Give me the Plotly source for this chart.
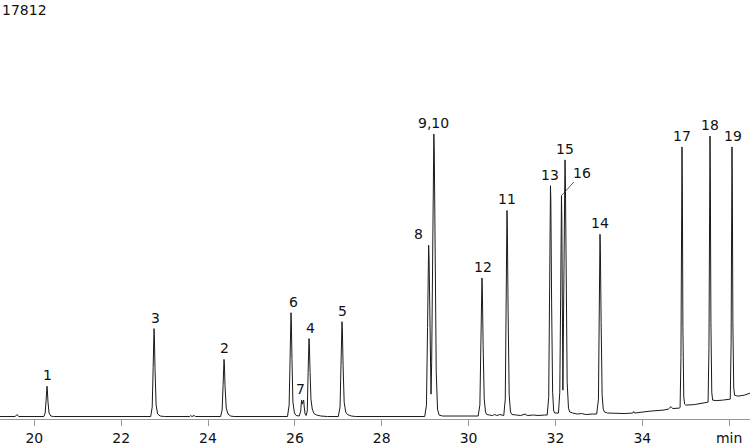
import plotly.graph_objects as go

# Chromatogram trace (time in min, detector signal in arbitrary units)
trace_time = [
    19.21, 19.56, 19.60, 19.64,
    20.22, 20.25, 20.272, 20.285, 20.292, 20.300, 20.315, 20.34, 20.38, 20.44,
    22.68, 22.715, 22.737, 22.75, 22.756, 22.764, 22.78, 22.805, 22.84, 22.90, 23.0,
    23.58, 23.60, 23.63, 23.68, 23.71,
    24.29, 24.325, 24.348, 24.362, 24.368, 24.376, 24.392, 24.42, 24.46, 24.52, 24.60,
    25.83, 25.868, 25.89, 25.904, 25.911, 25.918, 25.933, 25.955, 25.99, 26.03,
    26.10, 26.135, 26.150, 26.157, 26.168, 26.180, 26.195, 26.203, 26.213, 26.235, 26.26,
    26.285, 26.305, 26.318, 26.325, 26.333, 26.35, 26.37, 26.40, 26.44, 26.50, 26.60, 26.75,
    27.00, 27.04, 27.062, 27.077, 27.085, 27.093, 27.11, 27.135, 27.17, 27.21, 27.30, 27.40,
    28.99, 29.03, 29.055, 29.072, 29.08, 29.09, 29.11, 29.13, 29.135, 29.15, 29.172, 29.19,
    29.20, 29.21, 29.23, 29.255, 29.285, 29.32, 29.40,
    30.22, 30.26, 30.285, 30.30, 30.308, 30.316, 30.335, 30.36, 30.39, 30.42, 30.48,
    30.55, 30.60, 30.65, 30.72, 30.78,
    30.81, 30.845, 30.865, 30.877, 30.884, 30.892, 30.91, 30.935, 30.965, 31.0,
    31.10, 31.20, 31.30, 31.35, 31.50, 31.60, 31.75,
    31.81, 31.845, 31.866, 31.879, 31.886, 31.894, 31.912, 31.935, 31.96, 31.985,
    32.07, 32.10, 32.12, 32.133, 32.139, 32.147, 32.16, 32.172, 32.185, 32.205, 32.22,
    32.228, 32.245, 32.27, 32.30, 32.33, 32.40, 32.50, 32.60, 32.70, 32.85,
    32.95, 32.99, 33.008, 33.02, 33.026, 33.034, 33.052, 33.075, 33.10, 33.13,
    33.20, 33.40, 33.60, 33.78, 33.80, 33.82, 34.00, 34.20, 34.50, 34.60, 34.66, 34.70, 34.85,
    34.87, 34.89, 34.905, 34.914, 34.922, 34.935, 34.955, 34.975, 35.0, 35.2, 35.45,
    35.515, 35.535, 35.55, 35.559, 35.567, 35.58, 35.60, 35.62, 35.70, 35.85, 36.0,
    36.025, 36.045, 36.057, 36.065, 36.073, 36.086, 36.105, 36.125, 36.20, 36.35, 36.48,
]
trace_signal = [
    0.5, 0.5, 2.5, 0.5,
    0.5, 4, 17, 29, 31, 28, 15, 4, 1, 0.5,
    0.5, 10, 50, 84, 89, 83, 48, 12, 3, 1, 0.5,
    0.5, 1.5, 0.5, 1.5, 0.5,
    0.5, 7, 33, 55, 58, 54, 31, 9, 3, 1, 0.5,
    0.5, 12, 60, 99, 105, 98, 58, 15, 4, 1.5,
    1, 6, 15, 17, 13, 14, 16, 17, 11, 3, 1.5,
    6, 45, 75, 79, 74, 45, 18, 8, 3.5, 2, 1, 0.5,
    0.5, 10, 55, 91, 96, 90, 52, 15, 5, 2.5, 1, 0.5,
    0.5, 12, 90, 165, 173, 160, 90, 28, 23, 55, 175, 272,
    285, 268, 160, 45, 8, 2, 1,
    1, 12, 75, 132, 140, 131, 72, 18, 5, 2.5, 2,
    1.5, 2.5, 1.5, 2.5, 1.5,
    1.5, 18, 110, 195, 208, 194, 105, 22, 5, 2.5,
    2, 1.5, 3, 1.5, 2, 1.5, 2,
    2, 20, 125, 220, 233, 218, 115, 25, 6, 4,
    4, 25, 120, 210, 223, 200, 110, 27, 95, 230, 259,
    245, 140, 35, 9, 5, 4, 3, 3.5, 2.5, 3,
    3, 18, 100, 172, 184, 170, 95, 22, 8, 5,
    4, 3.5, 3.5, 4, 5.5, 4, 5, 6, 7, 8, 10.5, 8.5, 9,
    9.5, 60, 230, 272, 235, 90, 20, 13, 12, 12.5, 14,
    15, 70, 240, 283, 240, 95, 25, 17, 16.5, 17, 18,
    18, 75, 235, 272, 235, 95, 30, 22, 21, 22, 24,
]

# Peak labels
peak_labels = ["1", "3", "2", "6", "7", "4", "5", "8", "9,10", "12", "11",
               "13", "15", "14", "17", "18", "19"]
peak_times = [20.292, 22.756, 24.368, 25.911, 26.18, 26.325, 27.085, 29.08, 29.2,
              30.308, 30.884, 31.886, 32.22, 33.026, 34.914, 35.559, 36.065]
peak_heights = [31, 89, 58, 105, 17, 79, 96, 173, 285, 140, 208, 233, 259, 184,
                272, 283, 272]
label_xshift = [1, 1, 0, 2, -2, 2, 1, -10, 0, 1, 0, 0, 0, 0, 0, 0, 1]

# Peak with a leader line
leader_label = "16"
leader_time = 32.139
leader_height = 223

tick_vals = [20, 22, 24, 26, 28, 30, 32, 34, 36]
tick_text = ["20", "22", "24", "26", "28", "30", "32", "34", "min"]
sample_name = "17812"

FONT = "DejaVu Sans"

fig = go.Figure()
fig.add_trace(go.Scatter(
    x=trace_time, y=trace_signal, mode="lines",
    line=dict(color="#1a1a1a", width=1),
    hoverinfo="skip", showlegend=False,
))

for lab, t, h, dx in zip(peak_labels, peak_times, peak_heights, label_xshift):
    fig.add_annotation(
        x=t, y=h, text=lab, showarrow=False,
        xanchor="center", yanchor="bottom", yshift=1, xshift=dx,
        font=dict(family=FONT, size=14, color="#111111"),
    )

fig.add_annotation(
    x=leader_time, y=leader_height, text=leader_label,
    showarrow=True, arrowhead=0, arrowwidth=0.8, arrowcolor="#333333",
    ax=21, ay=-23, standoff=1,
    font=dict(family=FONT, size=14, color="#111111"),
)

fig.add_annotation(
    xref="paper", yref="paper", x=0, y=1, xanchor="left", yanchor="top",
    text=sample_name, showarrow=False,
    font=dict(family=FONT, size=14, color="#111111"),
)

fig.update_layout(
    width=750, height=446,
    margin=dict(l=0, r=0, t=0, b=24),
    paper_bgcolor="white", plot_bgcolor="white",
    font=dict(family=FONT, size=14, color="#111111"),
    xaxis=dict(
        range=[19.21, 36.48], tickvals=tick_vals, ticktext=tick_text,
        showgrid=False, zeroline=False, showline=True, linecolor="#999999",
        linewidth=1, ticks="outside", ticklen=6, tickcolor="#999999",
        tickfont=dict(family=FONT, size=14, color="#111111"),
    ),
    yaxis=dict(range=[-2, 420], visible=False, showgrid=False, zeroline=False),
)

fig.write_html("out.html")
